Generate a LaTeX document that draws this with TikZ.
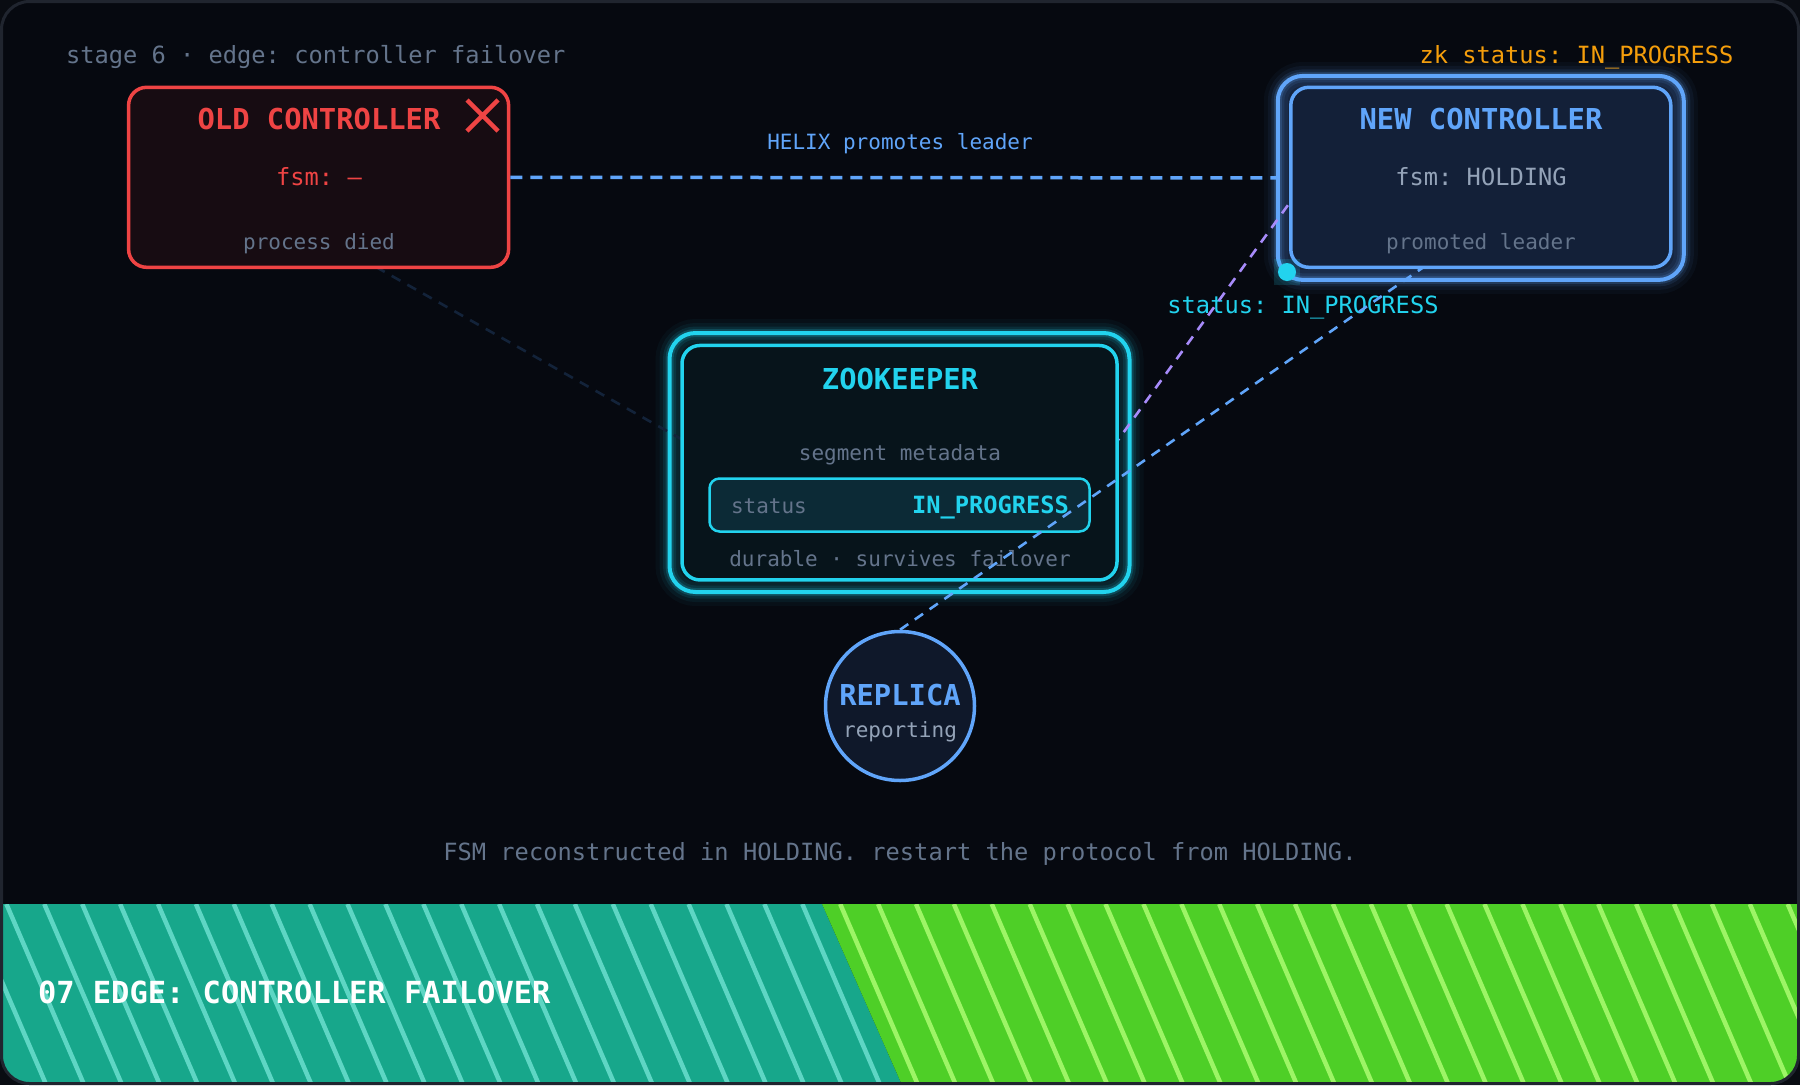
\documentclass[tikz,border=0pt]{standalone}
\usepackage{fontspec}
\setmainfont{DejaVu Sans Mono}
\frenchspacing
\definecolor{outc}{HTML}{090C12}
\definecolor{bgc}{HTML}{060910}
\definecolor{framec}{HTML}{20252F}
\definecolor{slatec}{HTML}{64748B}
\definecolor{slatelt}{HTML}{94A3B8}
\definecolor{cred}{HTML}{EF4444}
\definecolor{cblue}{HTML}{60A5FA}
\definecolor{ccyan}{HTML}{22D3EE}
\definecolor{cpurple}{HTML}{A78BFA}
\definecolor{corange}{HTML}{F59E0B}
\definecolor{oldfill}{HTML}{170C12}
\definecolor{newfill}{HTML}{132038}
\definecolor{zkfill}{HTML}{07141B}
\definecolor{statfill}{HTML}{0C2A36}
\definecolor{repfill}{HTML}{0F182A}
\definecolor{faintc}{HTML}{13233A}
\definecolor{bteal}{HTML}{17A78B}
\definecolor{btealst}{HTML}{5ED6C4}
\definecolor{bgreen}{HTML}{4ECF27}
\definecolor{bgreenst}{HTML}{9DF566}
\begin{document}
\begin{tikzpicture}[x=1pt,y=-1pt,
  txt/.style={inner sep=0pt, outer sep=0pt, yshift=-3.5pt},
  fhead/.style={font=\fontsize{28.8}{34}\selectfont\bfseries, text height=21pt, text depth=7pt},
  fmid/.style={font=\fontsize{23.7}{28}\selectfont, text height=17.8pt, text depth=5.9pt},
  fmidb/.style={font=\fontsize{23.7}{28}\selectfont\bfseries, text height=17.8pt, text depth=5.9pt},
  fsmall/.style={font=\fontsize{21}{25}\selectfont, text height=15.8pt, text depth=5.3pt},
  ctrlbox/.style={rectangle, rounded corners=18pt, minimum width=380pt, minimum height=180pt, inner sep=0pt, line width=3.5pt},
  ctrlring/.style={rectangle, rounded corners=25pt, minimum width=406pt, minimum height=204pt, inner sep=0pt},
  zkbox/.style={rectangle, rounded corners=18pt, minimum width=435pt, minimum height=234.5pt, inner sep=0pt, line width=3.5pt},
  zkring/.style={rectangle, rounded corners=26pt, minimum width=460pt, minimum height=259pt, inner sep=0pt},
  conn/.style={dash pattern=on 10pt off 8pt, line width=2.6pt},
]
\useasboundingbox (0,0) rectangle (1800,1085);
\fill[outc] (0,0) rectangle (1800,1085);
\fill[bgc, rounded corners=28pt] (1.5,1.5) rectangle (1798.5,1083.5);

% banner
\begin{scope}
  \clip[rounded corners=28pt] (1.5,1.5) rectangle (1798.5,1083.5);
  \fill[bteal] (0,904) -- (822,904) -- (902,1085) -- (0,1085) -- cycle;
  \fill[bgreen] (822,904) -- (1800,904) -- (1800,1085) -- (902,1085) -- cycle;
  \begin{scope}
    \clip (0,904) -- (822,904) -- (902,1085) -- (0,1085) -- cycle;
    \foreach \k in {-3,...,24}
      \draw[btealst, line width=4.5pt] ({6.4+37.9*\k},904) -- ({6.4+37.9*\k+77.8},1085);
  \end{scope}
  \begin{scope}
    \clip (822,904) -- (1800,904) -- (1800,1085) -- (902,1085) -- cycle;
    \foreach \k in {19,...,48}
      \draw[bgreenst, line width=4.5pt] ({6.4+37.9*\k},904) -- ({6.4+37.9*\k+77.8},1085);
  \end{scope}
\end{scope}
\node[txt, font=\fontsize{30.4}{36}\selectfont\bfseries, text=white, anchor=west, text height=22pt, text depth=7pt] (bantxt) at (38,992) {07 EDGE: CONTROLLER FAILOVER};

% header texts
\node[txt, fmid, text=slatec, anchor=west] (title) at (66,54) {stage 6 · edge: controller failover};
\node[txt, fmid, text=corange, anchor=east] (zkst) at (1733.5,54) {zk status: IN\_PROGRESS};

% outer rings with glow
\node[ctrlring, fill=newfill] (newring) at (1480.8,177.9) {};
\foreach \w/\o in {28/0.04,20/0.06,13/0.1,8/0.18}{
  \node[ctrlring, draw=cblue, line width=\w pt, draw opacity=\o] at (1480.8,177.9) {};
}
\node[ctrlring, draw=cblue, line width=4pt] at (1480.8,177.9) {};

\node[zkring, fill=zkfill] (zkring) at (899.5,462.5) {};
\foreach \w/\o in {28/0.04,20/0.06,13/0.1,8/0.18}{
  \node[zkring, draw=ccyan, line width=\w pt, draw opacity=\o] at (899.5,462.5) {};
}
\node[zkring, draw=ccyan, line width=4pt] at (899.5,462.5) {};

% status label
\node[txt, fmid, text=ccyan] (stlbl) at (1303,304) {status: IN\_PROGRESS};

% background connectors (under inner boxes)
\coordinate (fa) at (376,267);
\coordinate (fb) at (690,444);
\coordinate (pa) at (1071,505);
\coordinate (pb) at (1309,176);
\draw[conn, draw=faintc] (fa) -- (fb);
\draw[conn, draw=cpurple] (pa) -- (pb);

% old controller
\node[ctrlbox, fill=oldfill, draw=cred] (oldc) at (318.6,177.3) {};
\node[txt, fhead, text=cred] (oldh) at (319,119.4) {OLD CONTROLLER};
\node[txt, fmid, text=cred] (oldf) at (319,175.6) {fsm: —};
\node[txt, fsmall, text=slatec] (oldp) at (319,241) {process died};
\draw[cred, line width=4.5pt] (467,100) -- (498,131) (498,100) -- (467,131);

% new controller
\node[ctrlbox, fill=newfill, draw=cblue] (newc) at (1480.8,177.3) {};
\node[txt, fhead, text=cblue] (newh) at (1481,119.4) {NEW CONTROLLER};
\node[txt, fmid, text=slatelt] (newf) at (1481,175.6) {fsm: HOLDING};
\node[txt, fsmall, text=slatec] (newp) at (1481,241) {promoted leader};

% zookeeper
\node[zkbox, fill=zkfill, draw=ccyan] (zk) at (899.5,462.7) {};
\node[txt, fhead, text=ccyan] (zkh) at (900,379) {ZOOKEEPER};
\node[txt, fsmall, text=slatec] (zkm) at (900,452) {segment metadata};
\node[rectangle, rounded corners=10pt, minimum width=380pt, minimum height=53pt, inner sep=0pt, fill=statfill, draw=ccyan, line width=2.5pt] (stbox) at (899.5,505) {};
\node[txt, fsmall, text=slatec, anchor=west] (stk) at (731,505) {status};
\node[txt, fmidb, text=ccyan, anchor=east] (stv) at (1069,504) {IN\_PROGRESS};
\node[txt, fsmall, text=slatec] (zkd) at (900,558) {durable · survives failover};

% replica
\node[circle, minimum size=149pt, inner sep=0pt, fill=repfill, draw=cblue, line width=3.5pt] (rep) at (900,706) {};
\node[txt, fhead, text=cblue] (reph) at (900,694.5) {REPLICA};
\node[txt, fsmall, text=slatelt] (repr) at (900,729) {reporting};

% foreground connectors
\draw[dash pattern=on 12pt off 8pt, line width=3.5pt, draw=cblue] (oldc.east) -- (newring.west);
\node[txt, fsmall, text=cblue] (helixlbl) at (900,141) {HELIX promotes leader};
\coordinate (rb) at (1423,267.5);
\draw[conn, draw=cblue] (rep.north) -- (rb);

% dot
\fill[ccyan, opacity=0.15] (1274,259) rectangle (1300,285);
\node[circle, fill=ccyan, minimum size=18pt, inner sep=0pt] (dot) at (1287,272) {};

% footer
\node[txt, fmid, text=slatec] (foot) at (900,851) {FSM reconstructed in HOLDING. restart the protocol from HOLDING.};

% frame border
\draw[framec, line width=3pt, rounded corners=28pt] (1.5,1.5) rectangle (1798.5,1083.5);
\end{tikzpicture}
\end{document}
